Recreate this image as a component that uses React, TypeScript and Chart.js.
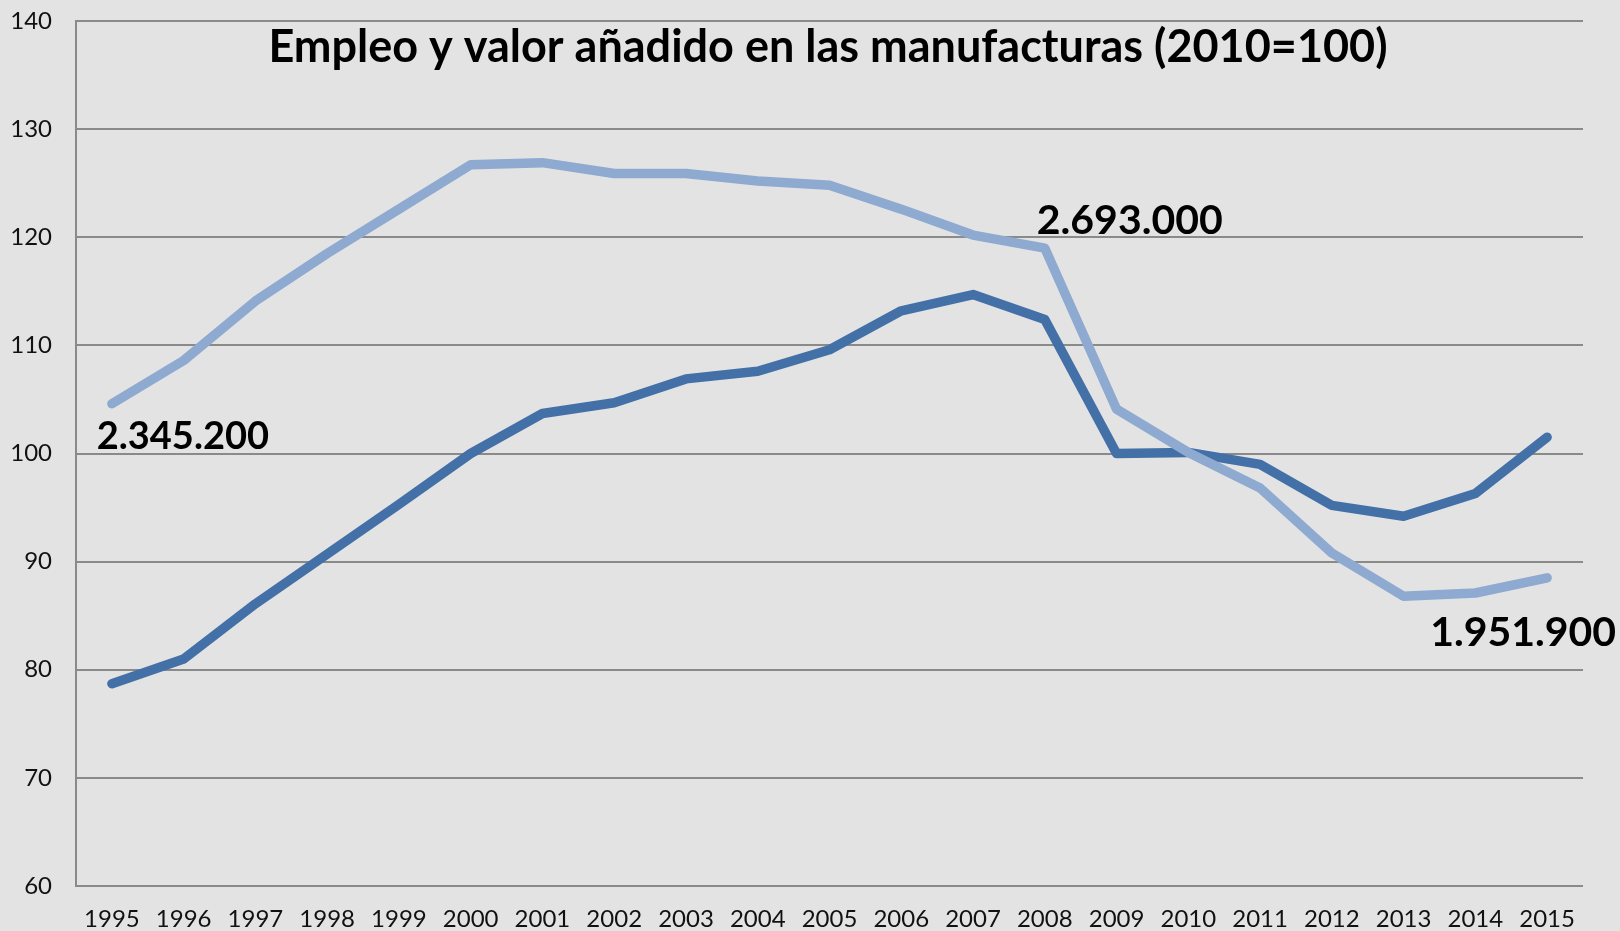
import React, { useEffect, useRef } from "react";
import { Chart, registerables } from "chart.js";

Chart.register(...registerables);

const years = ["1995","1996","1997","1998","1999","2000","2001","2002","2003","2004","2005","2006","2007","2008","2009","2010","2011","2012","2013","2014","2015"];
const empleo = [104.6,108.6,114.1,118.5,122.6,126.7,126.9,125.9,125.9,125.2,124.8,122.6,120.2,119.0,104.1,100.1,96.8,90.8,86.8,87.1,88.5];
const valorAnadido = [78.7,81.0,86.1,90.7,95.3,100.0,103.7,104.7,106.9,107.6,109.6,113.2,114.7,112.4,100.0,100.1,99.0,95.2,94.2,96.3,101.5];
const titleText = "Empleo y valor añadido en las manufacturas (2010=100)";
const annotations = [
  { index: 0, text: "2.345.200", dx: 71, dy: 33, size: 38 },
  { index: 13, text: "2.693.000", dx: 85, dy: -27, size: 41 },
  { index: 20, text: "1.951.900", dx: -24, dy: 55, size: 41 },
];

const FONT = "Lato, 'Open Sans', sans-serif";

export default function App() {
  const ref = useRef<HTMLCanvasElement>(null);
  useEffect(() => {
    document.body.style.margin = "0";
    document.body.style.background = "#e3e3e3";
    const canvas = ref.current!;
    const overlay = {
      id: "overlay",
      afterDatasetsDraw(chart: any) {
        const ctx = chart.ctx;
        const xs = chart.scales.x;
        const ys = chart.scales.y;
        ctx.save();
        ctx.fillStyle = "#000";
        ctx.textBaseline = "middle";
        ctx.textAlign = "center";
        ctx.font = `bold 45px ${FONT}`;
        ctx.fillText(titleText, 828, 47);
        for (const a of annotations) {
          ctx.font = `bold ${a.size}px ${FONT}`;
          const px = xs.getPixelForValue(a.index);
          const py = ys.getPixelForValue(empleo[a.index]);
          ctx.fillText(a.text, px + a.dx, py + a.dy);
        }
        ctx.restore();
      },
    };
    const chart = new Chart(canvas, {
      type: "line",
      data: {
        labels: years,
        datasets: [
          {
            label: "Empleo",
            data: empleo,
            borderColor: "#8eaad0",
            borderWidth: 9.5,
            pointRadius: 0,
            tension: 0,
            borderCapStyle: "round",
            borderJoinStyle: "round",
          },
          {
            label: "Valor añadido",
            data: valorAnadido,
            borderColor: "#4470a8",
            borderWidth: 9.5,
            pointRadius: 0,
            tension: 0,
            borderCapStyle: "round",
            borderJoinStyle: "round",
          },
        ],
      },
      options: {
        responsive: false,
        animation: false,
        layout: { padding: { top: 21, right: 37, left: 0, bottom: 0 } },
        plugins: { legend: { display: false }, tooltip: { enabled: false }, title: { display: false } },
        scales: {
          x: {
            offset: true,
            grid: { display: false, drawTicks: false },
            border: { display: false },
            ticks: { color: "#111", font: { family: FONT, size: 24 }, padding: 19, maxRotation: 0, autoSkip: false },
            afterFit(scale: any) { scale.height = 45; },
          },
          y: {
            min: 60,
            max: 140,
            ticks: { stepSize: 10, color: "#111", font: { family: FONT, size: 24 }, padding: 24 },
            grid: { color: "#8a8a8a", lineWidth: 2, drawTicks: false },
            border: { display: true, color: "#8a8a8a", width: 2 },
            afterFit(scale: any) {
              scale.width = 76;
              scale.paddingTop = 0;
              scale.paddingBottom = 0;
            },
          },
        },
      },
      plugins: [overlay],
    });
    return () => chart.destroy();
  }, []);
  return (
    <div style={{ width: 1620, height: 931 }}>
      <canvas ref={ref} width={1620} height={931} />
    </div>
  );
}
